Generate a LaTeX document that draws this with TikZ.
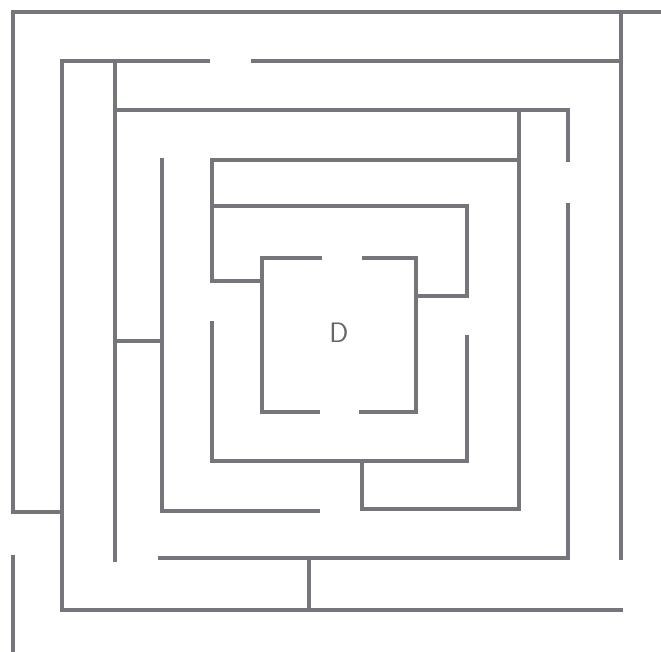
\documentclass[tikz,border=0pt]{standalone}
\usepackage{tikz}

\begin{document}
\begin{tikzpicture}[x=0.03cm, y=-0.03cm,
    wall/.style={draw=black!65!blue!8!gray, line width=3pt, line cap=rect, line join=miter}]
  \useasboundingbox[fill=white] (0,0) rectangle (661,652);
  % outer ring
  \draw[wall] (13,512) -- (13,12) -- (661,12);
  \draw[wall] (13,512) -- (62,512);
  \draw[wall] (13,557) -- (13,652);
  \draw[wall] (621,12) -- (621,558);
  % second ring
  \draw[wall] (208,61) -- (62,61) -- (62,610) -- (621,610);
  \draw[wall] (253,61) -- (621,61);
  \draw[wall] (309,558) -- (309,610);
  % third ring
  \draw[wall] (115,560) -- (115,61);
  \draw[wall] (115,110) -- (568,110) -- (568,160);
  \draw[wall] (568,205) -- (568,558) -- (160,558);
  \draw[wall] (115,341) -- (162,341);
  % fourth ring
  \draw[wall] (162,160) -- (162,511) -- (318,511);
  \draw[wall] (519,110) -- (519,509) -- (362,509) -- (362,461);
  \draw[wall] (519,160) -- (212,160) -- (212,281) -- (262,281);
  % fifth ring
  \draw[wall] (212,206) -- (467,206) -- (467,296) -- (416,296);
  \draw[wall] (212,323) -- (212,461) -- (467,461) -- (467,337);
  % centre box
  \draw[wall] (320,258) -- (262,258) -- (262,412) -- (318,412);
  \draw[wall] (364,258) -- (416,258) -- (416,412) -- (361,412);
  \node[text=black!60, font=\sffamily\fontsize{24}{24}\selectfont] (goal) at (339,333) {D};
\end{tikzpicture}
\end{document}
